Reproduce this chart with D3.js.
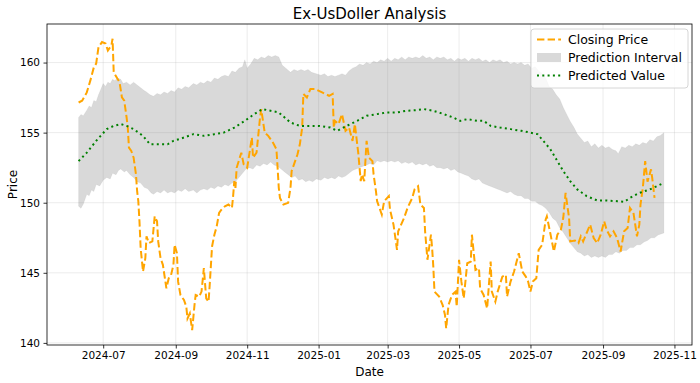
<!DOCTYPE html>
<html>
<head>
<meta charset="utf-8">
<script src="https://cdn.jsdelivr.net/npm/d3@7"></script>
<style>
  html, body { margin: 0; padding: 0; background: #fff; }
  svg { display: block; font-family: "DejaVu Sans", sans-serif; }
</style>
</head>
<body>
<svg id="chart" width="700" height="383"></svg>
<script>
// ---------------- DATA ----------------
const closingPrice = [
  ["2024-06-10",157.15],["2024-06-13",157.28],["2024-06-17",157.87],["2024-06-20",158.71],["2024-06-23",159.66],
  ["2024-06-25",159.93],["2024-06-27",161.10],["2024-06-30",161.46],["2024-07-03",161.36],["2024-07-05",160.86],
  ["2024-07-08",161.22],["2024-07-09",161.70],["2024-07-10",159.30],["2024-07-15",158.59],["2024-07-17",157.51],
  ["2024-07-19",157.28],["2024-07-21",156.08],["2024-07-22",155.36],["2024-07-23",153.93],["2024-07-25",153.69],
  ["2024-07-27",153.21],["2024-07-29",152.02],["2024-07-30",150.82],["2024-07-31",150.11],["2024-08-01",148.67],
  ["2024-08-02",146.76],["2024-08-04",145.09],["2024-08-06",146.04],["2024-08-07",147.60],["2024-08-09",147.12],
  ["2024-08-12",147.24],["2024-08-14",149.03],["2024-08-16",148.67],["2024-08-17",147.24],["2024-08-19",146.04],
  ["2024-08-21",145.57],["2024-08-24",143.89],["2024-08-26",144.61],["2024-08-28",144.85],["2024-08-30",145.57],
  ["2024-08-31",147.00],["2024-09-02",146.40],["2024-09-03",144.37],["2024-09-05",143.42],["2024-09-08",143.06],
  ["2024-09-10",142.58],["2024-09-11",141.74],["2024-09-13",142.10],["2024-09-15",140.91],["2024-09-17",142.70],
  ["2024-09-18",143.42],["2024-09-21",143.30],["2024-09-23",143.66],["2024-09-25",145.33],["2024-09-27",143.18],
  ["2024-09-29",142.94],["2024-09-30",144.14],["2024-10-02",146.88],["2024-10-04",147.72],["2024-10-06",148.32],
  ["2024-10-08",149.27],["2024-10-10",149.50],["2024-10-13",149.75],["2024-10-16",149.87],["2024-10-19",149.63],
  ["2024-10-20",150.47],["2024-10-21",151.54],["2024-10-22",151.06],["2024-10-23",152.49],["2024-10-27",153.57],
  ["2024-10-29",152.74],["2024-11-01",152.50],["2024-11-05",154.65],["2024-11-06",153.21],["2024-11-09",153.57],
  ["2024-11-12",156.08],["2024-11-13",156.68],["2024-11-16",155.00],["2024-11-19",154.77],["2024-11-23",154.29],
  ["2024-11-26",153.81],["2024-11-27",152.49],["2024-11-28",151.06],["2024-11-29",150.34],["2024-12-02",149.87],
  ["2024-12-06",149.99],["2024-12-08",151.06],["2024-12-09",152.26],["2024-12-14",153.46],["2024-12-16",154.17],
  ["2024-12-18",155.36],["2024-12-19",157.76],["2024-12-22",157.51],["2024-12-25",158.11],["2024-12-29",158.11],
  ["2025-01-04",157.87],["2025-01-10",157.63],["2025-01-13",157.76],["2025-01-14",155.36],["2025-01-15",155.84],
  ["2025-01-18",155.61],["2025-01-21",156.32],["2025-01-24",155.13],["2025-01-27",155.36],["2025-01-30",154.41],
  ["2025-02-01",155.61],["2025-02-04",153.46],["2025-02-06",151.54],["2025-02-07",152.02],["2025-02-09",151.54],
  ["2025-02-11",154.41],["2025-02-13",153.21],["2025-02-16",152.97],["2025-02-17",152.02],["2025-02-19",150.82],
  ["2025-02-20",150.11],["2025-02-24",149.15],["2025-02-26",150.11],["2025-03-02",150.47],["2025-03-03",149.51],
  ["2025-03-06",148.44],["2025-03-09",146.64],["2025-03-10",147.96],["2025-03-15",148.91],["2025-03-18",149.63],
  ["2025-03-22",150.34],["2025-03-24",150.95],["2025-03-27",151.18],["2025-03-29",149.87],["2025-04-01",149.63],
  ["2025-04-02",147.96],["2025-04-04",145.93],["2025-04-07",147.72],["2025-04-08",146.76],["2025-04-09",145.45],
  ["2025-04-10",143.66],["2025-04-14",143.30],["2025-04-17",142.70],["2025-04-19",141.99],["2025-04-20",141.03],
  ["2025-04-22",142.70],["2025-04-25",143.42],["2025-04-28",143.66],["2025-04-29",142.58],["2025-05-01",145.93],
  ["2025-05-03",144.37],["2025-05-05",143.18],["2025-05-08",145.68],["2025-05-11",145.80],["2025-05-12",147.72],
  ["2025-05-15",145.21],["2025-05-18",145.33],["2025-05-19",143.89],["2025-05-22",143.42],["2025-05-25",142.46],
  ["2025-05-28",145.81],["2025-05-29",143.66],["2025-06-01",142.94],["2025-06-03",143.66],["2025-06-07",144.73],
  ["2025-06-10",144.85],["2025-06-11",143.30],["2025-06-14",144.37],["2025-06-17",145.09],["2025-06-21",146.40],
  ["2025-06-24",145.09],["2025-06-27",144.73],["2025-06-29",144.37],["2025-07-01",143.66],["2025-07-03",144.37],
  ["2025-07-06",144.61],["2025-07-08",146.64],["2025-07-11",147.00],["2025-07-14",148.80],["2025-07-15",149.03],
  ["2025-07-18",147.80],["2025-07-21",146.52],["2025-07-24",147.72],["2025-07-27",148.08],["2025-07-29",148.91],
  ["2025-07-31",150.70],["2025-08-03",148.91],["2025-08-04",147.24],["2025-08-08",147.30],["2025-08-11",147.12],
  ["2025-08-13",147.60],["2025-08-15",147.24],["2025-08-18",147.84],["2025-08-21",148.44],["2025-08-24",147.48],
  ["2025-08-27",147.12],["2025-08-30",147.72],["2025-09-02",148.67],["2025-09-04",148.08],["2025-09-07",147.60],
  ["2025-09-10",147.96],["2025-09-13",147.48],["2025-09-16",146.52],["2025-09-19",147.96],["2025-09-22",148.19],
  ["2025-09-24",149.63],["2025-09-27",149.27],["2025-09-30",147.60],["2025-10-02",148.44],["2025-10-03",149.87],
  ["2025-10-05",151.06],["2025-10-07",152.97],["2025-10-09",151.50],["2025-10-12",152.38],["2025-10-13",151.78],
  ["2025-10-15",150.34]
];

const predictedValue = [
  ["2024-06-10",152.97],["2024-06-17",153.57],["2024-06-25",154.41],["2024-07-04",155.25],["2024-07-10",155.48],
  ["2024-07-16",155.61],["2024-07-21",155.48],["2024-07-27",155.25],["2024-08-04",154.77],["2024-08-10",154.17],
  ["2024-08-19",154.17],["2024-08-25",154.17],["2024-08-30",154.41],["2024-09-08",154.65],["2024-09-16",154.89],
  ["2024-09-25",154.77],["2024-10-04",154.89],["2024-10-12",155.00],["2024-10-21",155.36],["2024-10-30",155.84],
  ["2024-11-07",156.32],["2024-11-14",156.68],["2024-11-21",156.56],["2024-11-28",156.44],["2024-12-08",155.72],
  ["2024-12-16",155.48],["2024-12-25",155.48],["2025-01-02",155.48],["2025-01-11",155.36],["2025-01-17",155.13],
  ["2025-01-25",155.48],["2025-02-03",155.84],["2025-02-11",156.20],["2025-02-20",156.32],["2025-02-28",156.44],
  ["2025-03-09",156.44],["2025-03-17",156.56],["2025-03-26",156.61],["2025-04-01",156.68],["2025-04-09",156.56],
  ["2025-04-18",156.32],["2025-04-26",156.08],["2025-05-02",155.84],["2025-05-08",155.96],["2025-05-17",155.84],
  ["2025-05-22",155.84],["2025-05-28",155.48],["2025-06-05",155.36],["2025-06-14",155.25],["2025-06-23",155.13],
  ["2025-07-01",155.00],["2025-07-07",154.89],["2025-07-12",154.41],["2025-07-18",153.81],["2025-07-24",152.97],
  ["2025-07-29",152.26],["2025-08-04",151.54],["2025-08-10",150.95],["2025-08-18",150.47],["2025-08-27",150.16],
  ["2025-09-04",150.16],["2025-09-13",150.11],["2025-09-19",150.06],["2025-09-24",150.34],["2025-10-02",150.70],
  ["2025-10-11",150.95],["2025-10-17",151.18],["2025-10-23",151.42]
];

const intervalUpper = [
  ["2024-06-10",156.08],["2024-06-12",156.3],["2024-06-14",156.2],["2024-06-17",156.6],["2024-06-19",156.9],
  ["2024-06-21",156.8],["2024-06-23",157.3],["2024-06-25",157.2],["2024-06-27",157.7],["2024-06-29",158.1],
  ["2024-07-01",158.5],["2024-07-03",158.3],["2024-07-05",158.6],["2024-07-07",158.5],["2024-07-09",158.8],
  ["2024-07-11",158.7],["2024-07-13",158.9],["2024-07-16",158.8],["2024-07-18",158.5],["2024-07-21",158.6],
  ["2024-07-24",158.4],["2024-07-27",158.6],["2024-07-30",158.4],["2024-08-02",158.2],["2024-08-05",158.0],
  ["2024-08-07",157.9],["2024-08-10",157.7],["2024-08-13",157.6],["2024-08-16",157.8],["2024-08-19",157.7],
  ["2024-08-22",157.9],["2024-08-25",157.8],["2024-08-28",158.0],["2024-08-31",157.9],["2024-09-03",158.2],
  ["2024-09-06",158.1],["2024-09-09",158.3],["2024-09-12",158.2],["2024-09-16",158.5],["2024-09-19",158.4],
  ["2024-09-22",158.6],["2024-09-25",158.5],["2024-09-28",158.7],["2024-10-01",158.6],["2024-10-04",158.9],
  ["2024-10-07",158.8],["2024-10-10",159.0],["2024-10-13",159.1],["2024-10-16",159.0],["2024-10-19",159.4],
  ["2024-10-22",159.3],["2024-10-25",159.6],["2024-10-28",159.7],["2024-10-30",160.2],["2024-11-01",159.6],
  ["2024-11-04",159.9],["2024-11-07",160.3],["2024-11-10",160.2],["2024-11-13",160.4],["2024-11-16",160.3],
  ["2024-11-19",160.5],["2024-11-22",160.4],["2024-11-25",160.5],["2024-11-28",160.4],["2024-12-01",159.8],
  ["2024-12-04",159.6],["2024-12-08",159.3],["2024-12-11",159.5],["2024-12-14",159.4],["2024-12-17",159.5],
  ["2024-12-20",159.4],["2024-12-23",159.5],["2024-12-26",159.3],["2024-12-30",159.2],["2025-01-03",159.1],
  ["2025-01-06",159.2],["2025-01-09",159.0],["2025-01-12",159.1],["2025-01-15",159.0],["2025-01-18",159.1],
  ["2025-01-21",159.2],["2025-01-24",159.1],["2025-01-27",159.4],["2025-01-30",159.6],["2025-02-02",159.7],
  ["2025-02-05",159.9],["2025-02-08",159.8],["2025-02-11",160.0],["2025-02-14",159.9],["2025-02-17",160.1],
  ["2025-02-20",160.0],["2025-02-23",160.2],["2025-02-26",160.1],["2025-03-01",160.3],["2025-03-04",160.1],
  ["2025-03-07",160.3],["2025-03-10",160.2],["2025-03-13",160.4],["2025-03-16",160.2],["2025-03-19",160.4],
  ["2025-03-22",160.3],["2025-03-25",160.4],["2025-03-28",160.3],["2025-03-31",160.5],["2025-04-03",160.3],
  ["2025-04-06",160.4],["2025-04-09",160.2],["2025-04-12",160.4],["2025-04-15",160.3],["2025-04-18",160.4],
  ["2025-04-21",160.2],["2025-04-24",160.3],["2025-04-27",160.1],["2025-04-30",160.3],["2025-05-03",160.2],
  ["2025-05-06",160.3],["2025-05-09",160.1],["2025-05-12",160.3],["2025-05-15",160.2],["2025-05-18",160.3],
  ["2025-05-21",160.1],["2025-05-24",160.2],["2025-05-27",160.0],["2025-05-30",160.2],["2025-06-02",160.1],
  ["2025-06-05",160.2],["2025-06-08",160.0],["2025-06-11",160.1],["2025-06-14",159.9],["2025-06-17",160.0],
  ["2025-06-20",159.9],["2025-06-23",160.0],["2025-06-26",159.8],["2025-06-29",159.9],["2025-07-02",159.6],
  ["2025-07-05",159.7],["2025-07-08",159.4],["2025-07-11",159.2],["2025-07-14",158.9],["2025-07-17",158.3],
  ["2025-07-20",158.1],["2025-07-23",157.7],["2025-07-26",157.4],["2025-07-29",156.8],["2025-08-01",156.3],
  ["2025-08-04",155.8],["2025-08-07",155.4],["2025-08-10",154.9],["2025-08-13",154.6],["2025-08-16",154.3],
  ["2025-08-19",154.4],["2025-08-22",154.0],["2025-08-25",154.2],["2025-08-28",153.9],["2025-08-31",154.1],
  ["2025-09-03",153.9],["2025-09-06",154.0],["2025-09-09",153.8],["2025-09-12",153.7],["2025-09-14",153.5],
  ["2025-09-17",154.0],["2025-09-20",153.9],["2025-09-23",154.1],["2025-09-26",154.0],["2025-09-29",154.2],
  ["2025-10-02",154.1],["2025-10-05",154.3],["2025-10-08",154.2],["2025-10-11",154.5],["2025-10-14",154.4],
  ["2025-10-17",154.7],["2025-10-20",154.8],["2025-10-23",155.0]
];

const intervalLower = [
  ["2024-06-10",149.75],["2024-06-12",149.6],["2024-06-14",149.9],["2024-06-17",150.6],["2024-06-19",150.5],
  ["2024-06-21",150.9],["2024-06-23",150.8],["2024-06-25",151.3],["2024-06-28",151.2],["2024-07-01",151.6],
  ["2024-07-04",151.8],["2024-07-07",151.7],["2024-07-09",152.1],["2024-07-12",152.0],["2024-07-14",152.3],
  ["2024-07-16",152.4],["2024-07-19",152.2],["2024-07-21",152.3],["2024-07-24",152.0],["2024-07-27",151.8],
  ["2024-07-30",151.5],["2024-08-02",151.4],["2024-08-05",151.1],["2024-08-08",151.0],["2024-08-11",150.7],
  ["2024-08-13",150.6],["2024-08-16",150.8],["2024-08-19",150.7],["2024-08-22",150.9],["2024-08-25",150.7],
  ["2024-08-28",150.8],["2024-08-31",150.7],["2024-09-03",150.9],["2024-09-06",150.8],["2024-09-09",151.0],
  ["2024-09-12",150.8],["2024-09-16",150.9],["2024-09-19",150.7],["2024-09-22",150.9],["2024-09-25",151.0],
  ["2024-09-28",150.9],["2024-10-01",151.1],["2024-10-04",151.0],["2024-10-07",151.2],["2024-10-10",151.1],
  ["2024-10-13",151.3],["2024-10-16",151.2],["2024-10-19",151.4],["2024-10-22",151.5],["2024-10-25",151.8],
  ["2024-10-28",152.1],["2024-10-31",152.4],["2024-11-03",152.5],["2024-11-06",152.4],["2024-11-09",152.7],
  ["2024-11-12",152.6],["2024-11-15",152.8],["2024-11-18",152.7],["2024-11-21",152.9],["2024-11-24",152.7],
  ["2024-11-27",152.6],["2024-11-30",152.4],["2024-12-03",152.2],["2024-12-06",152.0],["2024-12-09",151.8],
  ["2024-12-12",151.9],["2024-12-15",151.6],["2024-12-18",151.7],["2024-12-21",151.5],["2024-12-24",151.6],
  ["2024-12-27",151.5],["2024-12-30",151.7],["2025-01-03",151.6],["2025-01-06",151.8],["2025-01-09",151.7],
  ["2025-01-12",151.8],["2025-01-15",151.7],["2025-01-18",151.9],["2025-01-21",151.8],["2025-01-24",151.9],
  ["2025-01-27",152.1],["2025-01-30",152.3],["2025-02-02",152.4],["2025-02-05",152.5],["2025-02-08",152.6],
  ["2025-02-11",152.7],["2025-02-14",152.8],["2025-02-17",152.7],["2025-02-20",153.0],["2025-02-23",152.9],
  ["2025-02-26",153.0],["2025-03-01",152.9],["2025-03-04",153.0],["2025-03-07",152.9],["2025-03-10",153.0],
  ["2025-03-13",152.8],["2025-03-16",152.9],["2025-03-19",152.8],["2025-03-22",152.9],["2025-03-25",152.7],
  ["2025-03-28",152.8],["2025-03-31",152.7],["2025-04-03",152.8],["2025-04-06",152.6],["2025-04-09",152.7],
  ["2025-04-12",152.5],["2025-04-15",152.5],["2025-04-18",152.4],["2025-04-21",152.5],["2025-04-24",152.3],
  ["2025-04-27",152.4],["2025-04-30",152.2],["2025-05-03",152.1],["2025-05-06",152.0],["2025-05-09",151.9],
  ["2025-05-12",151.7],["2025-05-15",151.6],["2025-05-18",151.7],["2025-05-21",151.4],["2025-05-24",151.3],
  ["2025-05-27",151.2],["2025-05-30",151.1],["2025-06-02",151.0],["2025-06-05",150.9],["2025-06-08",150.8],
  ["2025-06-11",150.7],["2025-06-14",150.8],["2025-06-17",150.6],["2025-06-20",150.5],["2025-06-23",150.5],
  ["2025-06-26",150.3],["2025-06-29",150.3],["2025-07-02",150.1],["2025-07-05",150.1],["2025-07-08",149.9],
  ["2025-07-11",149.8],["2025-07-14",149.6],["2025-07-17",149.3],["2025-07-20",148.9],["2025-07-23",148.7],
  ["2025-07-26",148.2],["2025-07-29",147.9],["2025-08-01",147.5],["2025-08-04",147.1],["2025-08-07",146.8],
  ["2025-08-10",146.5],["2025-08-13",146.4],["2025-08-16",146.2],["2025-08-19",146.3],["2025-08-22",146.1],
  ["2025-08-25",146.2],["2025-08-28",146.1],["2025-08-31",146.2],["2025-09-03",146.1],["2025-09-06",146.3],
  ["2025-09-09",146.3],["2025-09-12",146.5],["2025-09-15",146.4],["2025-09-18",146.6],["2025-09-21",146.6],
  ["2025-09-24",146.8],["2025-09-27",146.8],["2025-09-30",147.0],["2025-10-03",147.0],["2025-10-06",147.2],
  ["2025-10-09",147.3],["2025-10-12",147.5],["2025-10-15",147.5],["2025-10-18",147.7],["2025-10-23",147.84]
];

const xTickLabels = ["2024-07","2024-09","2024-11","2025-01","2025-03","2025-05","2025-07","2025-09","2025-11"];
const yTickValues = [140, 145, 150, 155, 160];
const xDomain = ["2024-05-14", "2025-11-16"];
const yDomain = [139.85, 162.75];
const seriesNames = ["Closing Price", "Prediction Interval", "Predicted Value"];

// ---------------- CHART ----------------
const parse = d3.timeParse("%Y-%m-%d");
const parseMonth = d3.timeParse("%Y-%m");
const m = { left: 47, right: 692, top: 24, bottom: 345 };

const svg = d3.select("#chart");
const x = d3.scaleTime().domain(xDomain.map(parse)).range([m.left, m.right]);
const y = d3.scaleLinear().domain(yDomain).range([m.bottom, m.top]);

const xTicks = xTickLabels.map(parseMonth);

// grid
const grid = svg.append("g");
grid.selectAll("line.gx").data(xTicks).join("line")
  .attr("x1", d => x(d)).attr("x2", d => x(d))
  .attr("y1", m.top).attr("y2", m.bottom)
  .attr("stroke", "#b0b0b0").attr("stroke-opacity", 0.3).attr("stroke-width", 0.8);
grid.selectAll("line.gy").data(yTickValues).join("line")
  .attr("x1", m.left).attr("x2", m.right)
  .attr("y1", d => y(d)).attr("y2", d => y(d))
  .attr("stroke", "#b0b0b0").attr("stroke-opacity", 0.3).attr("stroke-width", 0.8);

svg.append("clipPath").attr("id", "clip").append("rect")
  .attr("x", m.left).attr("y", m.top).attr("width", m.right - m.left).attr("height", m.bottom - m.top);
const plot = svg.append("g").attr("clip-path", "url(#clip)");

// prediction interval band
const lineGen = d3.line().x(d => x(parse(d[0]))).y(d => y(d[1]));
const bandPts = intervalUpper.concat(intervalLower.slice().reverse());
plot.append("path")
  .attr("d", lineGen(bandPts) + "Z")
  .attr("fill", "#808080").attr("fill-opacity", 0.3)
  .attr("stroke", "#808080").attr("stroke-opacity", 0.15).attr("stroke-width", 0.6);

// closing price
plot.append("path")
  .attr("d", lineGen(closingPrice))
  .attr("fill", "none").attr("stroke", "#FFA500").attr("stroke-width", 2)
  .attr("stroke-dasharray", "7.4,3.2");

// predicted value
plot.append("path")
  .attr("d", lineGen(predictedValue))
  .attr("fill", "none").attr("stroke", "#008000").attr("stroke-width", 2)
  .attr("stroke-dasharray", "2,3.3");

// axes
const xAxis = d3.axisBottom(x).tickValues(xTicks).tickFormat(d3.timeFormat("%Y-%m")).tickSizeOuter(0).tickSize(3.5).tickPadding(3.5);
const yAxis = d3.axisLeft(y).tickValues(yTickValues).tickFormat(d3.format("d")).tickSizeOuter(0).tickSize(3.5).tickPadding(3.5);

const gx = svg.append("g").attr("transform", `translate(0,${m.bottom})`).call(xAxis);
const gy = svg.append("g").attr("transform", `translate(${m.left},0)`).call(yAxis);
[gx, gy].forEach(g => {
  g.select(".domain").remove();
  g.selectAll(".tick line").attr("stroke", "#000").attr("stroke-width", 0.8);
  g.selectAll(".tick text").attr("font-family", "DejaVu Sans").attr("font-size", 10.5).attr("fill", "#000");
});

// frame
svg.append("rect").attr("x", m.left).attr("y", m.top)
  .attr("width", m.right - m.left).attr("height", m.bottom - m.top)
  .attr("fill", "none").attr("stroke", "#000").attr("stroke-width", 0.8);

// title & labels
svg.append("text").attr("x", (m.left + m.right) / 2).attr("y", 19)
  .attr("text-anchor", "middle").attr("font-size", 15).attr("fill", "#000").text("Ex-UsDoller Analysis");
svg.append("text").attr("x", (m.left + m.right) / 2).attr("y", 376)
  .attr("text-anchor", "middle").attr("font-size", 12).attr("fill", "#000").text("Date");
svg.append("text").attr("transform", `translate(17,${(m.top + m.bottom) / 2}) rotate(-90)`)
  .attr("text-anchor", "middle").attr("font-size", 12).attr("fill", "#000").text("Price");

// legend
const lg = svg.append("g").attr("transform", "translate(531,29)");
lg.append("rect").attr("width", 157).attr("height", 59).attr("rx", 3)
  .attr("fill", "#fff").attr("fill-opacity", 0.8).attr("stroke", "#cccccc").attr("stroke-width", 0.8);
const rows = [10.5, 28.5, 46.5];
lg.append("line").attr("x1", 6).attr("x2", 30).attr("y1", rows[0]).attr("y2", rows[0])
  .attr("stroke", "#FFA500").attr("stroke-width", 2).attr("stroke-dasharray", "7.4,3.2");
lg.append("rect").attr("x", 6).attr("y", rows[1] - 4.5).attr("width", 24).attr("height", 9)
  .attr("fill", "#808080").attr("fill-opacity", 0.3);
lg.append("line").attr("x1", 6).attr("x2", 30).attr("y1", rows[2]).attr("y2", rows[2])
  .attr("stroke", "#008000").attr("stroke-width", 2).attr("stroke-dasharray", "2,3.3");
seriesNames.forEach((name, i) => {
  lg.append("text").attr("x", 37).attr("y", rows[i]).attr("dy", "0.36em")
    .attr("font-size", 12.5).attr("fill", "#000").text(name);
});
</script>
</body>
</html>
